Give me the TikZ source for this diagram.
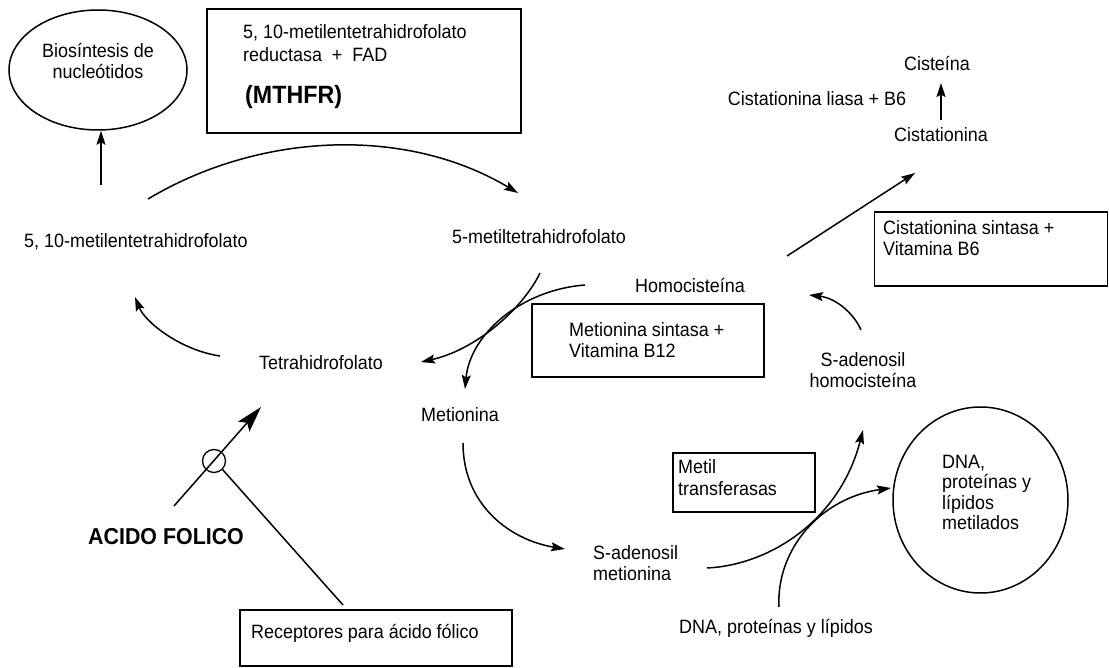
\documentclass[tikz,border=0pt]{standalone}
\usepackage{fontspec}
\setmainfont{Liberation Sans}[FakeStretch=0.93]
\usetikzlibrary{arrows.meta,shapes.geometric}
\begin{document}
\begin{tikzpicture}[x=1pt,y=-1pt,
  every node/.style={inner sep=0pt, font=\fontsize{19.3}{21.5}\selectfont},
  lbl/.style={anchor=west, align=left},
  ctr/.style={align=center},
  cbox/.style={draw, line width=1.6pt},
  oval/.style={draw, ellipse, line width=1.5pt},
  arr/.style={line width=1.5pt, -{Stealth[length=14pt,width=9pt,inset=2.5pt]}},
  bigarr/.style={line width=1.5pt, -{Stealth[length=26pt,width=15pt,inset=5pt]}},
  ln/.style={line width=1.5pt}]
\useasboundingbox (0,0) rectangle (1109,668);

% top left
\node[oval, minimum width=178pt, minimum height=120pt] (bio) at (98,70) {};
\node[ctr] (biot) at (98,61) {Biosíntesis de\\nucleótidos};
\node[cbox, minimum width=314pt, minimum height=124pt] (mbox) at (364,71) {};
\node[lbl] (m1) at (243,33) {5, 10-metilentetrahidrofolato};
\node[lbl] (m2) at (243,55) {reductasa \ + \ FAD};
\node[lbl, font=\bfseries\fontsize{25}{28}\selectfont] (m3) at (245,97) {(MTHFR)};

\node[lbl] (mthf) at (24,242) {5, 10-metilentetrahidrofolato};
\node[anchor=east] (mthf5) at (626,237) {5-metiltetrahidrofolato};
\node (thf) at (321,363) {Tetrahidrofolato};

\coordinate (u0) at (101,185);
\draw[arr] (u0) -- (bio.south -| u0);

\coordinate (a0) at (148,199);
\coordinate (a1) at (518,193);
\draw[arr] (a0) .. controls (260,132) and (406,126) .. (a1);

\coordinate (b0) at (220,356);
\coordinate (b1) at (135,297);
\draw[arr] (b0) .. controls (180,350) and (145,322) .. (b1);

% right top
\node (cis) at (937,63) {Cisteína};
\node (liasa) at (817,99) {Cistationina liasa + B6};
\node (cist) at (941,135) {Cistationina};
\coordinate (c0) at (941,120);
\draw[arr] (c0) -- (941,83);
\coordinate (d0) at (787,256);
\coordinate (d1) at (915,173);
\draw[arr] (d0) -- (d1);
\node[cbox, minimum width=233pt, minimum height=74pt] (csbox) at (991,249) {};
\node[lbl] (cst) at (883,238) {Cistationina sintasa +\\Vitamina B6};

% middle
\node (homo) at (690,285) {Homocisteína};
\node[cbox, minimum width=232pt, minimum height=73pt] (msbox) at (648,340.5) {};
\node[lbl] (mst) at (569,340) {Metionina sintasa +\\Vitamina B12};

\coordinate (e0) at (540,273);
\coordinate (e1) at (421,362);
\draw[arr] (e0) .. controls (522,310) and (475,350) .. (e1);
\coordinate (f0) at (585,285);
\coordinate (f1) at (465,389);
\draw[arr] (f0) .. controls (520,290) and (470,335) .. (f1);

\node (met) at (460,415) {Metionina};
\coordinate (g0) at (463,443);
\coordinate (g1) at (565,549);
\draw[arr] (g0) .. controls (463,505) and (510,540) .. (g1);

\node[lbl] (sam) at (593,563) {S-adenosil\\metionina};
\node[ctr] (sah) at (863,370) {S-adenosil\\homocisteína};
\coordinate (h0) at (861,330);
\coordinate (h1) at (809,295);
\draw[arr] (h0) .. controls (853,312) and (835,298) .. (h1);

\node[cbox, minimum width=141.5pt, minimum height=59pt] (mtbox) at (744,482.5) {};
\node[lbl] (mtt) at (678,477.5) {Metil\\transferasas};

\coordinate (i0) at (707,568);
\coordinate (i1) at (863,430);
\draw[arr] (i0) .. controls (770,565) and (840,520) .. (i1);

\node[oval, minimum width=175pt, minimum height=186pt] (dnam) at (980.5,500) {};
\node[lbl, font=\fontsize{19.3}{20.5}\selectfont] (dnat) at (942,492.5) {DNA,\\proteínas y\\lípidos\\metilados};
\node (dna) at (776,628) {DNA, proteínas y lípidos};
\coordinate (j0) at (779,607);
\coordinate (j1) at (891,488);
\draw[arr] (j0) .. controls (776,550) and (820,498) .. (j1);

% folic acid
\node[lbl, font=\bfseries\fontsize{23}{26}\selectfont] (af) at (88,537) {ACIDO FOLICO};
\coordinate (k0) at (174,506);
\coordinate (k1) at (261,407);
\draw[bigarr] (k0) -- (k1);
\node[draw, circle, line width=1.3pt, minimum size=23pt] (ring) at (214,461) {};
\node[cbox, minimum width=272pt, minimum height=56pt] (rbox) at (376,638) {};
\node[lbl] (rt) at (251,633) {Receptores para ácido fólico};
\coordinate (l1) at (343,605);
\draw[ln] (ring.south east) -- (l1);
\end{tikzpicture}
\end{document}
